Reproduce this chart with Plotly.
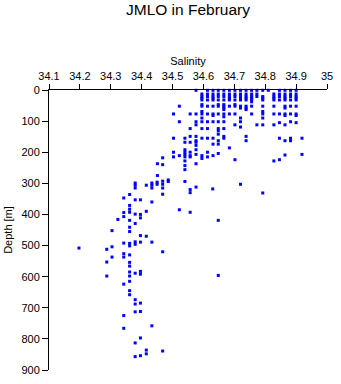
import plotly.graph_objects as go

# Upper water column (0-280 m): salinity and depth of each sample
upper_salinity = [
    34.576, 34.613, 34.631, 34.648, 34.666, 34.684, 34.702, 34.720, 34.738, 34.756, 34.773, 34.792, 34.810, 34.846, 34.864, 34.882, 34.900,
    34.595, 34.613, 34.631, 34.648, 34.666, 34.684, 34.702, 34.720, 34.738, 34.756, 34.773, 34.828, 34.846, 34.864, 34.882, 34.900,
    34.595, 34.613, 34.631, 34.648, 34.666, 34.684, 34.702, 34.720, 34.738, 34.756, 34.773, 34.792, 34.828, 34.846, 34.864, 34.882, 34.900,
    34.595, 34.631, 34.684, 34.720, 34.738, 34.756, 34.792, 34.828, 34.864, 34.900,
    34.595, 34.613, 34.631, 34.648, 34.666, 34.684, 34.702, 34.720, 34.738, 34.756, 34.792, 34.828, 34.846, 34.864, 34.882, 34.900,
    34.756,
    34.595, 34.648, 34.666, 34.702,
    34.522, 34.595, 34.613, 34.631, 34.648, 34.666, 34.684, 34.702, 34.720, 34.738, 34.756, 34.792, 34.828, 34.864, 34.882, 34.900,
    34.666, 34.720, 34.738, 34.864,
    34.666, 34.738,
    34.595, 34.792,
    34.503, 34.557, 34.576, 34.595, 34.613, 34.631, 34.648, 34.666, 34.684, 34.702, 34.756, 34.792, 34.828, 34.846, 34.864, 34.882, 34.900,
    34.631, 34.864, 34.900,
    34.666,
    34.595, 34.720, 34.792,
    34.522, 34.576, 34.595, 34.613, 34.631, 34.648, 34.666, 34.720, 34.882,
    34.846, 34.900,
    34.576, 34.702, 34.773, 34.792, 34.828, 34.864,
    34.720,
    34.557, 34.595, 34.613, 34.648, 34.666,
    34.648,
    34.648,
    34.557, 34.576, 34.666, 34.738,
    34.503, 34.540, 34.595, 34.613, 34.631, 34.666, 34.846, 34.882, 34.919,
    34.576, 34.648, 34.738, 34.864, 34.882,
    34.540, 34.557, 34.576,
    34.631, 34.648,
    34.576,
    34.684,
    34.540, 34.576,
    34.503, 34.540, 34.557, 34.613,
    34.648,
    34.540, 34.576, 34.919,
    34.864,
    34.522, 34.557, 34.595, 34.631,
    34.503, 34.540, 34.557, 34.613,
    34.468,
    34.595,
    34.702, 34.846,
    34.540, 34.828,
    34.451, 34.576,
    34.468,
    34.540,
    34.540,
    34.451,
]
upper_depth = [
    1, 1, 1, 1, 1, 1, 1, 1, 1, 1, 1, 1, 1, 1, 1, 1, 1,
    13, 13, 13, 13, 13, 13, 13, 13, 13, 13, 13, 13, 13, 13, 13, 13,
    21, 21, 21, 21, 21, 21, 21, 21, 21, 21, 21, 21, 21, 21, 21, 21, 21,
    26, 26, 26, 26, 26, 26, 26, 26, 26, 26,
    32, 32, 32, 32, 32, 32, 32, 32, 32, 32, 32, 32, 32, 32, 32, 32,
    38,
    47, 47, 47, 47,
    52, 52, 52, 52, 52, 52, 52, 52, 52, 52, 52, 52, 52, 52, 52, 52,
    58, 58, 58, 58,
    63, 63,
    69, 69,
    77, 77, 77, 77, 77, 77, 77, 77, 77, 77, 77, 77, 77, 77, 77, 77, 77,
    82, 82, 82,
    86,
    90, 90, 90,
    102, 102, 102, 102, 102, 102, 102, 102, 102,
    105, 105,
    112, 112, 112, 112, 112, 112,
    119,
    124, 124, 124, 124, 124,
    131,
    142,
    149, 149, 149, 149,
    155, 155, 155, 155, 155, 155, 155, 155, 155,
    163, 163, 163, 163, 163,
    168, 168, 168,
    174, 174,
    178,
    186,
    192, 192,
    200, 200, 200, 200,
    204,
    207, 207, 207,
    209,
    211, 211, 211, 211,
    215, 215, 215, 215,
    218,
    220,
    224, 224,
    228, 228,
    237, 237,
    240,
    243,
    256,
    275,
]

# Deep water column (below 280 m)
deep_salinity = [
    34.486, 34.486, 34.540, 34.468, 34.450, 34.379, 34.433, 34.720, 34.450, 34.468,
    34.379, 34.415, 34.433, 34.576, 34.379, 34.433, 34.468, 34.630, 34.557, 34.557,
    34.792, 34.468, 34.361, 34.342, 34.379, 34.396, 34.433, 34.361, 34.361, 34.522,
    34.415, 34.361, 34.557, 34.342, 34.379, 34.396, 34.342, 34.396, 34.323, 34.361,
    34.648, 34.379, 34.361, 34.304, 34.361, 34.396, 34.415, 34.379, 34.396, 34.433,
    34.342, 34.361, 34.379, 34.361, 34.304, 34.197, 34.287, 34.468, 34.342, 34.361,
    34.342, 34.304, 34.287, 34.361, 34.361, 34.396, 34.361, 34.379, 34.396, 34.648,
    34.287, 34.361, 34.361, 34.342, 34.361, 34.361, 34.379, 34.396, 34.379, 34.396,
    34.379, 34.342, 34.433, 34.342, 34.396, 34.379, 34.415, 34.468, 34.415, 34.396,
    34.379,
]
deep_depth = [
    289, 294, 294, 293, 296, 299, 299, 303, 303, 303,
    306, 306, 306, 312, 315, 315, 315, 318, 320, 330,
    331, 335, 336, 347, 353, 353, 360, 371, 383, 385,
    390, 393, 393, 394, 399, 400, 407, 411, 416, 419,
    419, 429, 441, 452, 455, 468, 470, 488, 489, 489,
    492, 493, 496, 501, 504, 508, 512, 520, 526, 530,
    537, 537, 553, 554, 566, 583, 585, 589, 592, 596,
    598, 598, 615, 624, 645, 658, 674, 685, 688, 712,
    713, 725, 758, 766, 797, 813, 836, 839, 848, 854,
    857,
]

salinity_ticks = [34.1, 34.2, 34.3, 34.4, 34.5, 34.6, 34.7, 34.8, 34.9, 35.0]
salinity_labels = ["34.1", "34.2", "34.3", "34.4", "34.5", "34.6", "34.7", "34.8", "34.9", "35"]
depth_ticks = [0, 100, 200, 300, 400, 500, 600, 700, 800, 900]

fig = go.Figure(
    go.Scatter(
        x=upper_salinity + deep_salinity,
        y=upper_depth + deep_depth,
        mode="markers",
        marker=dict(symbol="square", size=3, color="#0000ff", line=dict(width=0)),
        cliponaxis=False,
        hoverinfo="x+y",
    )
)

font_family = "Liberation Sans, Arial, sans-serif"

fig.update_layout(
    width=341,
    height=384,
    margin=dict(l=47, r=9, t=90, b=8, pad=0),
    paper_bgcolor="white",
    plot_bgcolor="white",
    font=dict(family=font_family, size=11, color="black"),
    showlegend=False,
    title=dict(
        text="JMLO in February",
        font=dict(family=font_family, size=15.5, color="black"),
        x=0.5,
        xref="paper",
        xanchor="center",
        y=1 - 10 / 384,
        yref="container",
        yanchor="middle",
    ),
    xaxis=dict(
        side="top",
        range=[34.1, 35.0],
        tickvals=salinity_ticks,
        ticktext=salinity_labels,
        ticks="outside",
        ticklen=5,
        tickwidth=1,
        tickcolor="black",
        showline=True,
        linecolor="black",
        linewidth=1,
        showgrid=False,
        zeroline=False,
        tickfont=dict(size=11),
        title=dict(text="Salinity", font=dict(size=11), standoff=1),
        fixedrange=True,
    ),
    yaxis=dict(
        range=[900, 0],
        tickvals=depth_ticks,
        ticks="outside",
        ticklen=6,
        tickwidth=1,
        tickcolor="black",
        showline=True,
        linecolor="black",
        linewidth=1,
        showgrid=False,
        zeroline=False,
        tickfont=dict(size=11),
        title=dict(text="Depth [m]", font=dict(size=11), standoff=6),
        fixedrange=True,
    ),
)

fig.write_html("out.html", config={"displayModeBar": False})
